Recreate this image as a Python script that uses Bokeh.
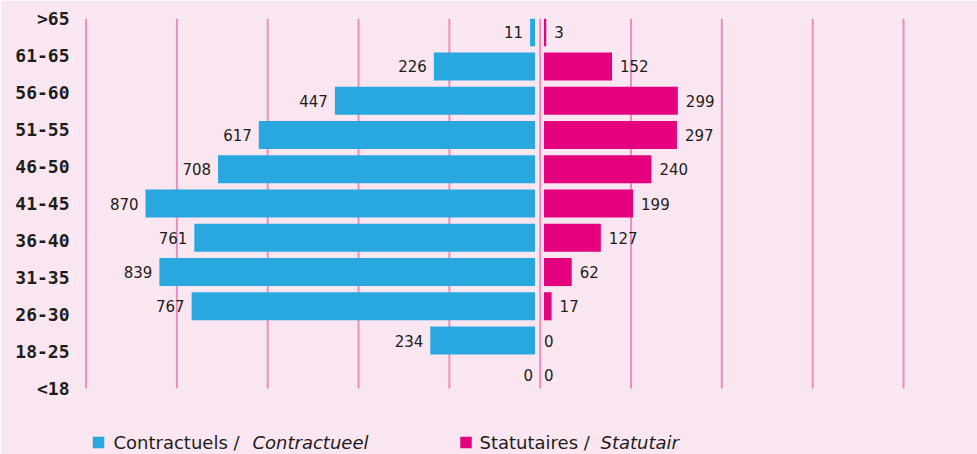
from bokeh.plotting import figure
from bokeh.models import Range1d, LinearAxis, FixedTicker, ColumnDataSource
from bokeh.core.properties import value
from bokeh.embed import file_html
from bokeh.resources import INLINE

# ---- data ----
ages = [">65", "61-65", "56-60", "51-55", "46-50", "41-45",
        "36-40", "31-35", "26-30", "18-25", "<18"]
contractuels = [11, 226, 447, 617, 708, 870, 761, 839, 767, 234, 0]
statutaires = [3, 152, 299, 297, 240, 199, 127, 62, 17, 0, 0]
grid_ticks = [-1000, -800, -600, -400, -200, 0, 200, 400, 600, 800]
legend_main = ["Contractuels / ", "Statutaires / "]
legend_alt = ["Contractueel", "Statutair"]

# ---- style ----
BG = "#f9e6f0"
BLUE = "#29a8e0"
MAGENTA = "#e5007e"
GRID = "#ea8fbb"
INK = "#1d1d1b"
GAP = 10      # gap between centre line and bar starts (data units)
MIN_LEN = 5   # minimal visible bar length (data units)
PAD = 0.4     # row padding above first / below last bar

# ---- layout (page pixels) ----
W, H = 977, 454
FRAME_L, FRAME_R = 72, 977
FRAME_T = 18
GRID_B = 388
BAR_ZERO_PX, BAR_PX = 539.0, 0.4477        # bar scale
GRID_ZERO_PX, GRID_PX = 539.7, 90.83 / 200  # decorative grid scale

n = len(ages)
ROW_PX = (GRID_B - FRAME_T) / (n - 1 + 2 * PAD)
Y_BOTTOM = (H - FRAME_T) / ROW_PX - PAD
X0 = -(BAR_ZERO_PX - FRAME_L) / BAR_PX
X1 = (FRAME_R - BAR_ZERO_PX) / BAR_PX
G0 = -(GRID_ZERO_PX - FRAME_L) / GRID_PX
G1 = (FRAME_R - GRID_ZERO_PX) / GRID_PX


def to_x(px):
    return (px - FRAME_L) / BAR_PX + X0


def to_y(py):
    return (py - FRAME_T) / ROW_PX - PAD


ys = list(range(n))
left_end = [-(GAP + max(v, MIN_LEN)) if v > 0 else -GAP for v in contractuels]
right_end = [GAP + max(v, MIN_LEN) if v > 0 else GAP for v in statutaires]
left_off = [-7 if v > 0 else -2 for v in contractuels]
right_off = [8 if v > 0 else 0 for v in statutaires]

src = ColumnDataSource(dict(
    y=ys,
    l_start=[-GAP] * n, l_end=left_end,
    r_start=[GAP] * n, r_end=right_end,
    l_txt=[str(v) for v in contractuels],
    r_txt=[str(v) for v in statutaires],
    l_off=left_off, r_off=right_off,
))

p = figure(width=W, height=H,
           x_range=Range1d(X0, X1), y_range=Range1d(Y_BOTTOM, -PAD),
           output_backend="svg", toolbar_location=None,
           x_axis_location=None, y_axis_location=None,
           min_border_left=FRAME_L, min_border_right=W - FRAME_R,
           min_border_top=FRAME_T, min_border_bottom=0,
           background_fill_color=BG, border_fill_color=BG,
           outline_line_color=None)
p.grid.visible = False
p.extra_x_ranges = {"grid": Range1d(G0, G1)}

# vertical grid lines spanning the rows
p.segment(x0=grid_ticks, x1=grid_ticks,
          y0=[-PAD] * len(grid_ticks), y1=[n - 1 + PAD] * len(grid_ticks),
          x_range_name="grid", line_color=GRID, line_width=2)

p.hbar(y="y", left="l_end", right="l_start", height=0.82, source=src,
       fill_color=BLUE, line_color=None)
p.hbar(y="y", left="r_start", right="r_end", height=0.82, source=src,
       fill_color=MAGENTA, line_color=None)

p.text(x="l_end", y="y", text="l_txt", x_offset="l_off", source=src,
       text_align="right", text_baseline="middle",
       text_font=value("DejaVu Sans"), text_font_size="15px", text_color=INK)
p.text(x="r_end", y="y", text="r_txt", x_offset="r_off", source=src,
       text_align="left", text_baseline="middle",
       text_font=value("DejaVu Sans"), text_font_size="15px", text_color=INK)

# category axis (labels spread across the full grid height)
lab_bottom = (n - 1) * (H - FRAME_T) / (GRID_B - FRAME_T)
p.extra_y_ranges = {"lab": Range1d(lab_bottom, 0)}
ax = LinearAxis(y_range_name="lab",
                ticker=FixedTicker(ticks=ys),
                major_label_overrides={i: a for i, a in enumerate(ages)},
                axis_line_color=None, major_tick_line_color=None,
                minor_tick_line_color=None, major_tick_out=0, major_tick_in=0,
                major_label_standoff=3,
                major_label_text_font="DejaVu Sans Mono",
                major_label_text_font_style="bold",
                major_label_text_font_size="18px",
                major_label_text_color=INK)
p.add_layout(ax, "left")

# ---- legend (manual, for mixed regular/italic text) ----
leg_src = ColumnDataSource(dict(
    sq_x=[to_x(98), to_x(465.5)], sq_y=[to_y(442)] * 2,
    color=[BLUE, MAGENTA],
    tx=[to_x(113), to_x(479)], ax=[to_x(252), to_x(600)], ty=[to_y(441.5)] * 2,
    main=legend_main, alt=legend_alt,
))
p.scatter(x="sq_x", y="sq_y", marker="square", size=11.5, fill_color="color",
          line_color=None, source=leg_src)
p.text(x="tx", y="ty", text="main", source=leg_src,
       text_font=value("DejaVu Sans"), text_font_size="18px",
       text_color=INK, text_baseline="middle")
p.text(x="ax", y="ty", text="alt", source=leg_src,
       text_font=value("DejaVu Sans"), text_font_style="italic",
       text_font_size="18px", text_color=INK, text_baseline="middle")

html = file_html(p, INLINE)
html = html.replace("<body>", '<body style="background-color:%s;">' % BG, 1)
open("out.html", "w").write(html)
